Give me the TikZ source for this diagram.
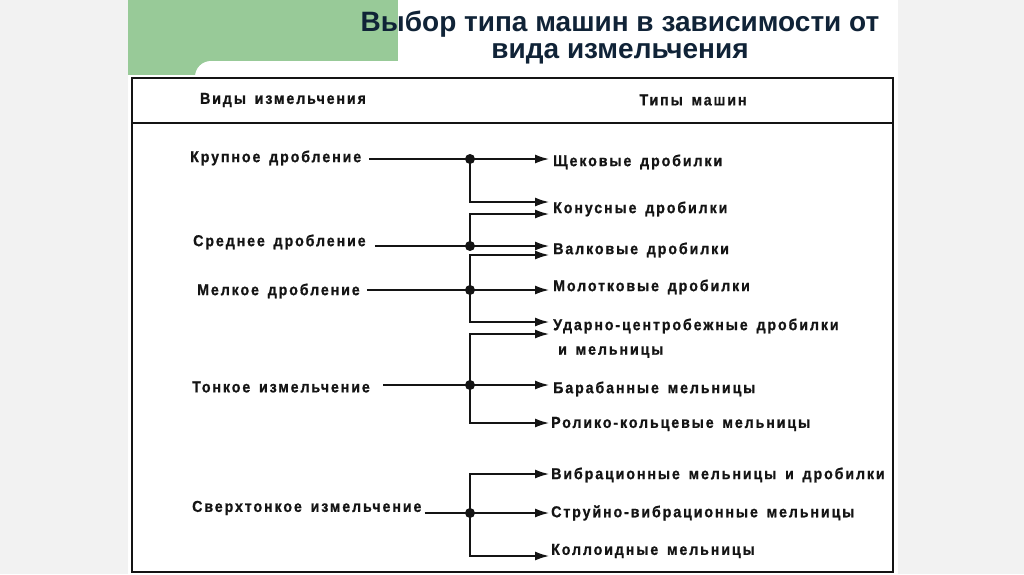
\documentclass[tikz,border=0pt]{standalone}
\usepackage{fontspec}
\setmainfont{Liberation Sans}
\newfontfamily\tabfont[FakeStretch=0.9,LetterSpace=12,WordSpace=1.5,FakeBold=0.8]{Liberation Sans Bold}
\usetikzlibrary{arrows.meta}
\definecolor{bggray}{RGB}{242,242,242}
\definecolor{tgreen}{RGB}{152,202,152}
\definecolor{titlec}{RGB}{16,35,55}
\definecolor{ink}{RGB}{20,20,20}
\tikzset{
  lab/.style={font=\tabfont\fontsize{15.8}{18}\selectfont, text=ink, inner sep=0pt, anchor=west},
  hlab/.style={font=\tabfont\fontsize{15.8}{18}\selectfont, text=ink, inner sep=0pt},
  conn/.style={line width=2.7pt, draw=ink},
  arr/.style={conn, -{Latex[length=15pt,width=9pt]}},
  jdot/.style={circle, fill=ink, minimum size=10pt, inner sep=0pt},
  ttl/.style={font=\bfseries\fontsize{28}{32}\selectfont, text=titlec, inner sep=0pt, anchor=base}
}
\begin{document}
\begin{tikzpicture}[x=1pt,y=-1pt]
\useasboundingbox (0,0) rectangle (1024,574);
\fill[bggray] (0,0) rectangle (1024,574);
\fill[white] (128,0) rectangle (898,574);
\fill[tgreen] (128,0) rectangle (398,75);
\fill[white, rounded corners=16pt] (195,61) rectangle (898,120);
% title
\node[ttl] (t1) at (620,31) {Выбор типа машин в зависимости от};
\node[ttl] (t2) at (620,58) {вида измельчения};
% table
\draw[line width=2.2pt, draw=ink] (132,78) rectangle (893,572);
\draw[line width=2.2pt, draw=ink] (132,123) -- (893,123);
\node[hlab] (h1) at (283,100) {Виды измельчения};
\node[hlab] (h2) at (693,100) {Типы машин};
% left labels
\node[lab] (l1) at (190,158) {Крупное дробление};
\node[lab] (l2) at (193,242) {Среднее дробление};
\node[lab] (l3) at (197,291) {Мелкое дробление};
\node[lab] (l4) at (192,387) {Тонкое измельчение};
\node[lab] (l5) at (192,508) {Сверхтонкое измельчение};
% right labels
\node[lab] (r1) at (553,162) {Щековые дробилки};
\node[lab] (r2) at (553,209) {Конусные дробилки};
\node[lab] (r3) at (553,250) {Валковые дробилки};
\node[lab] (r4) at (553,287) {Молотковые дробилки};
\node[lab] (r5) at (553,326) {Ударно-центробежные дробилки};
\node[lab] (r5b) at (558,352) {и мельницы};
\node[lab] (r6) at (553,389) {Барабанные мельницы};
\node[lab] (r7) at (551,424) {Ролико-кольцевые мельницы};
\node[lab] (r8) at (551,475) {Вибрационные мельницы и дробилки};
\node[lab] (r9) at (551,513) {Струйно-вибрационные мельницы};
\node[lab] (r10) at (551,551) {Коллоидные мельницы};
% junctions
\node[jdot] (J1) at (470,159) {};
\node[jdot] (J2) at (470,246) {};
\node[jdot] (J3) at (470,290) {};
\node[jdot] (J4) at (470,385) {};
\node[jdot] (J5) at (470,513) {};
% arrow tips
\coordinate (a1) at (550,159);
\coordinate (a2) at (550,202);
\coordinate (a3) at (550,214);
\coordinate (a4) at (550,246);
\coordinate (a5) at (550,255);
\coordinate (a6) at (550,290);
\coordinate (a7) at (550,322);
\coordinate (a8) at (550,334);
\coordinate (a9) at (550,385);
\coordinate (a10) at (550,423);
\coordinate (a11) at (550,474);
\coordinate (a12) at (550,513);
\coordinate (a13) at (550,556);
% left feeds
\draw[conn, shorten <=8pt] (l1.east |- J1) -- (J1.center);
\draw[conn, shorten <=9pt] (l2.east |- J2) -- (J2.center);
\draw[conn, shorten <=7pt] (l3.east |- J3) -- (J3.center);
\draw[conn, shorten <=13pt] (l4.east |- J4) -- (J4.center);
\draw[conn, shorten <=3pt] (l5.east |- J5) -- (J5.center);
% arrows
\draw[arr] (J1.center) -- (a1);
\draw[arr] (J1.center) |- (a2);
\draw[arr] (J2.center) |- (a3);
\draw[arr] (J2.center) -- (a4);
\draw[arr] (J3.center) |- (a5);
\draw[arr] (J3.center) -- (a6);
\draw[arr] (J3.center) |- (a7);
\draw[arr] (J4.center) |- (a8);
\draw[arr] (J4.center) -- (a9);
\draw[arr] (J4.center) |- (a10);
\draw[arr] (J5.center) |- (a11);
\draw[arr] (J5.center) -- (a12);
\draw[arr] (J5.center) |- (a13);
\end{tikzpicture}
\end{document}
